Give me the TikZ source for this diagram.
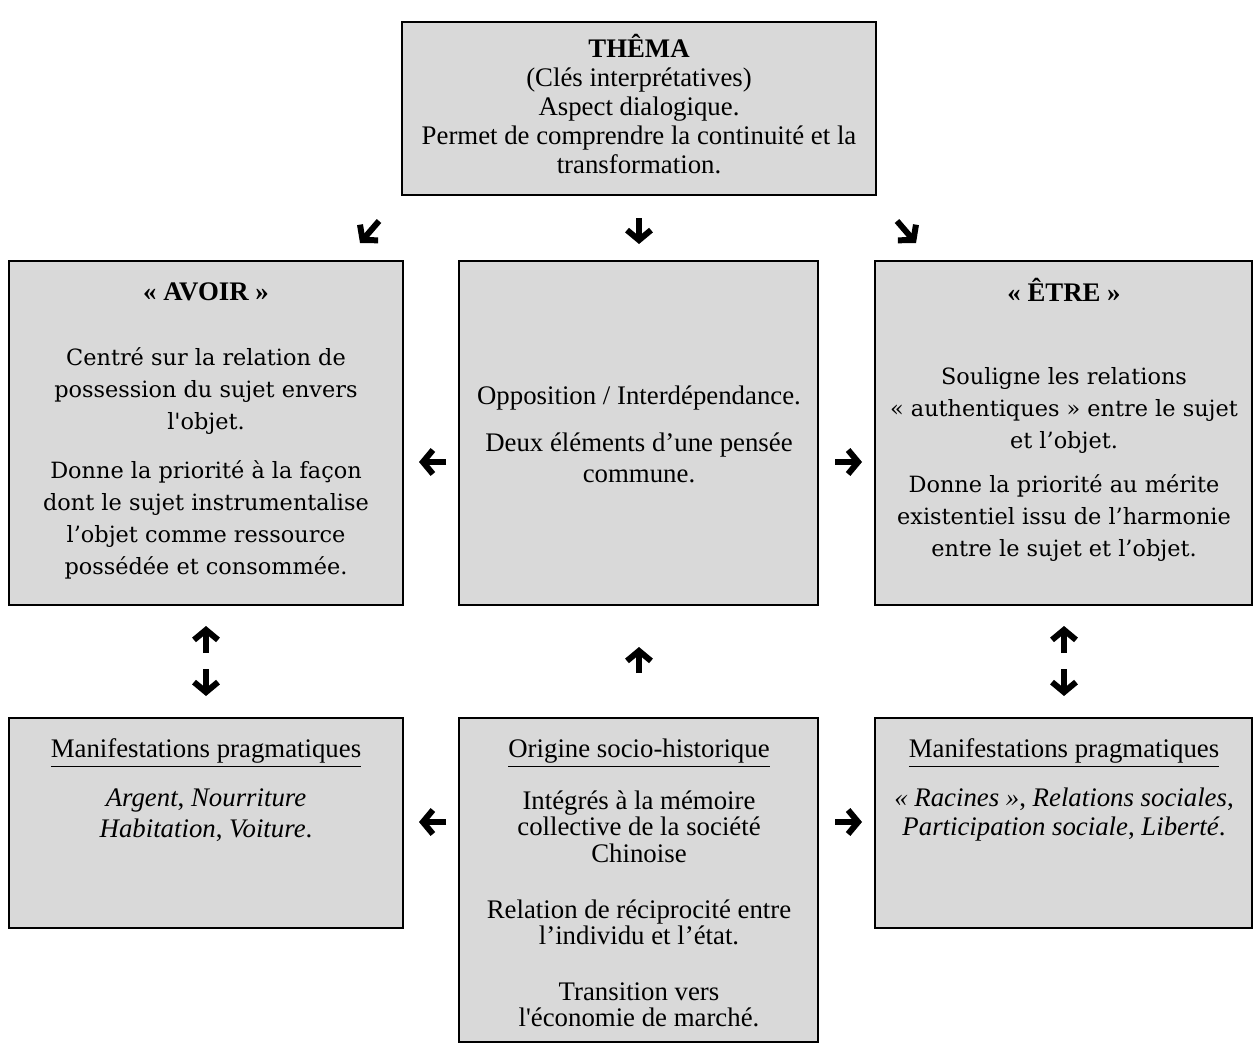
\documentclass[tikz,border=0pt]{standalone}
\usepackage{fontspec}
\newfontfamily\tms{Liberation Serif}
\newfontfamily\cambria{DejaVu Serif}
\usetikzlibrary{arrows.meta}
\definecolor{fond}{HTML}{D9D9D9}

\begin{document}
\begin{tikzpicture}[x=0.5pt,y=-0.5pt,
  cadre/.style={draw,line width=1.3pt,fill=fond,inner sep=0pt},
  texte/.style={align=center,inner sep=0pt,font=\tms\fontsize{13.4}{14.5}\selectfont},
  corps/.style={align=center,inner sep=0pt,font=\cambria\fontsize{11.2}{16}\selectfont},
  fleche/.style={line width=3pt,-{Straight Barb[length=5pt,width=12pt]}}]
\useasboundingbox (0,0) rectangle (1253,1044);
\node[cadre,minimum width=237pt,minimum height=86.5pt](thema) at (639,108.5) {};
\node[cadre,minimum width=197pt,minimum height=172pt](avoir) at (206,433) {};
\node[cadre,minimum width=179.5pt,minimum height=172pt](oppos) at (638.5,433) {};
\node[cadre,minimum width=188.5pt,minimum height=172pt](etre) at (1063.5,433) {};
\node[cadre,minimum width=197pt,minimum height=105pt](pragA) at (206,823) {};
\node[cadre,minimum width=179.5pt,minimum height=162pt](origine) at (638.5,880) {};
\node[cadre,minimum width=188.5pt,minimum height=105pt](pragE) at (1063.5,823) {};
\node[texte](themaC) at (639,104)
  {\textbf{THÊMA}\\(Clés interprétatives)\\Aspect dialogique.\\Permet de comprendre la continuité et la\\transformation.};
\node[texte](avoirT) at (206,292) {\textbf{«~AVOIR~»}};
\node[corps](avoirC) at (206,463) {Centré sur la relation de\\possession du sujet envers\\l'objet.\\[8.5pt]Donne la priorité à la façon\\dont le sujet instrumentalise\\l’objet comme ressource\\possédée et consommée.};
\node[texte](etreT) at (1064,290) {\textbf{«~ÊTRE~»}};
\node[corps](etreC) at (1064,464) {Souligne les relations\\«~authentiques~» entre le sujet\\et l’objet.\\[6pt]Donne la priorité au mérite\\existentiel issu de l’harmonie\\entre le sujet et l’objet.};
\node[texte,font=\tms\fontsize{13.4}{15.5}\selectfont](opposC) at (639,434) {Opposition / Interdépendance.\\[8pt]Deux éléments d’une pensée\\commune.};
\node[texte](pragAT) at (206,753) {\underline{Manifestations pragmatiques}};
\node[texte,font=\tms\fontsize{13.4}{15.5}\selectfont](pragAC) at (206,815.5) {\textit{Argent}, \textit{Nourriture}\\\textit{Habitation}, \textit{Voiture}.};
\node[texte](origT) at (639,753) {\underline{Origine socio-historique}};
\node[texte,font=\tms\fontsize{13.4}{13.3}\selectfont](origC) at (639,909) {Intégrés à la mémoire\\collective de la société\\Chinoise\\[14.5pt]Relation de réciprocité entre\\l’individu et l’état.\\[14.5pt]Transition vers\\l'économie de marché.};
\node[texte](pragET) at (1064,753) {\underline{Manifestations pragmatiques}};
\node[texte,font=\tms\fontsize{13.4}{14.5}\selectfont](pragEC) at (1064,814.5) {\textit{«~Racines~»}, \textit{Relations sociales},\\\textit{Participation sociale}, \textit{Liberté}.};
\coordinate (hgA) at (379,221); \coordinate (hgB) at (360,243);
\coordinate (hmA) at (639,218); \coordinate (hmB) at (639,244);
\coordinate (hdA) at (897,221); \coordinate (hdB) at (916,243);
\coordinate (mgA) at (446,462); \coordinate (mgB) at (419,462);
\coordinate (mdA) at (835,462); \coordinate (mdB) at (862,462);
\coordinate (vgA) at (206,653); \coordinate (vgB) at (206,626);
\coordinate (vgC) at (206,669); \coordinate (vgD) at (206,696);
\coordinate (vmA) at (639,673); \coordinate (vmB) at (639,647);
\coordinate (vdA) at (1064,653); \coordinate (vdB) at (1064,626);
\coordinate (vdC) at (1064,669); \coordinate (vdD) at (1064,696);
\coordinate (bgA) at (446,822); \coordinate (bgB) at (419,822);
\coordinate (bdA) at (835,822); \coordinate (bdB) at (862,822);
\draw[fleche](hgA)--(hgB);
\draw[fleche](hmA)--(hmB);
\draw[fleche](hdA)--(hdB);
\draw[fleche](mgA)--(mgB);
\draw[fleche](mdA)--(mdB);
\draw[fleche](vgA)--(vgB);
\draw[fleche](vgC)--(vgD);
\draw[fleche](vmA)--(vmB);
\draw[fleche](vdA)--(vdB);
\draw[fleche](vdC)--(vdD);
\draw[fleche](bgA)--(bgB);
\draw[fleche](bdA)--(bdB);
\end{tikzpicture}
\end{document}
